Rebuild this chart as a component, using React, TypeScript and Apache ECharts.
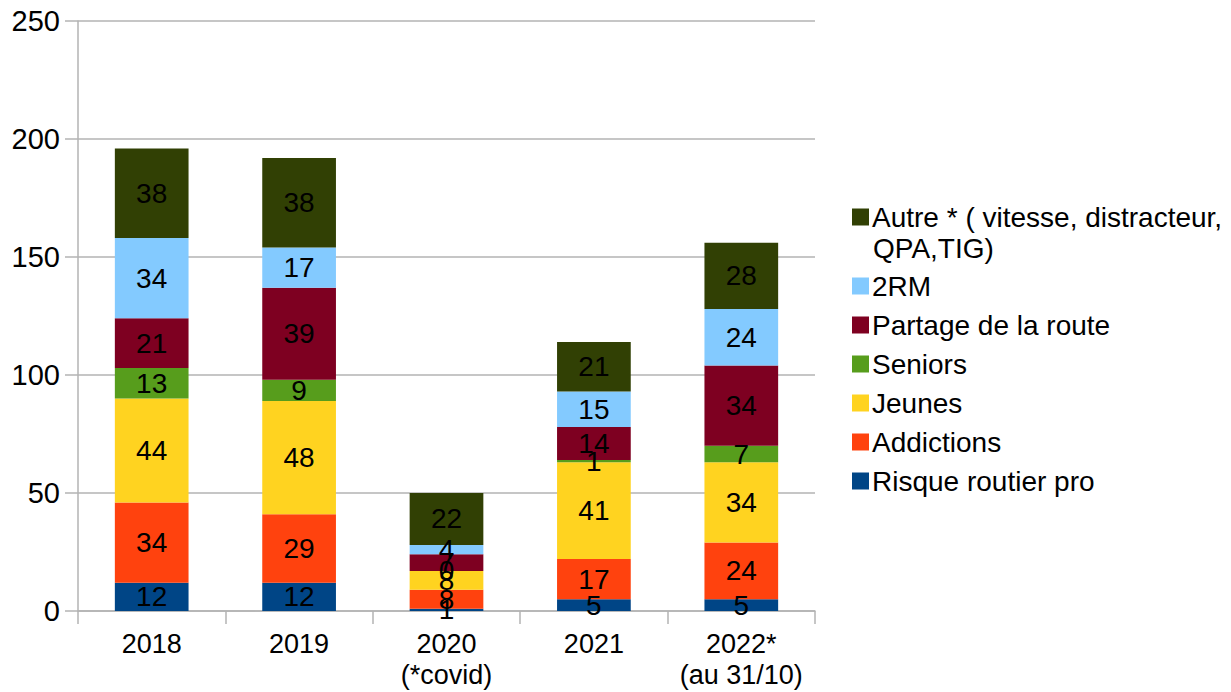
import React, { useEffect, useRef } from "react";
import * as echarts from "echarts";

const categories = ["2018", "2019", "2020\n(*covid)", "2021", "2022*\n(au 31/10)"];
const seriesNames = [
  "Risque routier pro",
  "Addictions",
  "Jeunes",
  "Seniors",
  "Partage de la route",
  "2RM",
  "Autre * ( vitesse, distracteur, QPA,TIG)",
];
const risque = [12, 12, 1, 5, 5];
const addictions = [34, 29, 8, 17, 24];
const jeunes = [44, 48, 8, 41, 34];
const seniors = [13, 9, 0, 1, 7];
const partage = [21, 39, 7, 14, 34];
const rm2 = [34, 17, 4, 15, 24];
const autre = [38, 38, 22, 21, 28];
const yTicks = { min: 0, max: 250, interval: 50 };

const colors = ["#004586", "#ff420e", "#ffd320", "#579d1c", "#7e0021", "#83caff", "#314004"];
const values = [risque, addictions, jeunes, seniors, partage, rm2, autre];

const FONT = "'Liberation Sans', Arial, sans-serif";

export default function App() {
  const ref = useRef<HTMLDivElement>(null);
  useEffect(() => {
    if (!ref.current) return;
    const chart = echarts.init(ref.current, undefined, { renderer: "svg" });
    const legendRest = seriesNames.slice(0, 6).reverse();
    chart.setOption({
      animation: false,
      color: colors,
      textStyle: { fontFamily: FONT },
      grid: { left: 78, right: 416, top: 21, bottom: 81, containLabel: false, outerBoundsMode: "none" },
      legend: [
        {
          data: [seriesNames[6]],
          orient: "vertical",
          left: 847,
          top: 196,
          itemWidth: 17,
          itemHeight: 17,
          itemGap: 7,
          icon: "rect",
          formatter: () => "Autre * ( vitesse, distracteur,",
          textStyle: { fontSize: 28, color: "#000", lineHeight: 32, fontFamily: FONT, padding: [0, 0, 0, -2] },
        },
        {
          data: legendRest,
          orient: "vertical",
          left: 847,
          top: 265,
          itemWidth: 17,
          itemHeight: 17,
          itemGap: 7,
          icon: "rect",
          textStyle: { fontSize: 28, color: "#000", lineHeight: 32, fontFamily: FONT, padding: [0, 0, 0, -2] },
        },
      ],
      graphic: [
        {
          type: "text",
          left: 873,
          top: 234,
          style: { text: "QPA,TIG)", fontSize: 28, fill: "#000", fontFamily: FONT },
        },
      ],
      xAxis: {
        type: "category",
        data: categories,
        axisLine: { lineStyle: { color: "#b3b3b3", width: 1.5 } },
        axisTick: { show: true, length: 13, lineStyle: { color: "#b3b3b3", width: 1.5 } },
        axisLabel: { interval: 0, fontSize: 27, color: "#000", margin: 17, lineHeight: 31, fontFamily: FONT },
      },
      yAxis: {
        type: "value",
        min: yTicks.min,
        max: yTicks.max,
        interval: yTicks.interval,
        axisLine: { show: true, lineStyle: { color: "#b3b3b3", width: 1.5 } },
        axisTick: { show: true, length: 13, lineStyle: { color: "#b3b3b3", width: 1.5 } },
        splitLine: { lineStyle: { color: "#b3b3b3", width: 1.5 } },
        axisLabel: { fontSize: 29, color: "#000", margin: 18, fontFamily: FONT },
      },
      series: seriesNames.map((name, i) => ({
        name,
        type: "bar",
        stack: "total",
        barWidth: "50%",
        data: values[i],
        itemStyle: { color: colors[i] },
        label: {
          show: true,
          position: "inside",
          fontSize: 28,
          color: "#000",
          fontFamily: FONT,
          formatter: (p: any) => String(p.value),
        },
      })),
    });
    return () => chart.dispose();
  }, []);
  return <div ref={ref} style={{ width: 1231, height: 692, position: "absolute", left: 0, top: 0 }} />;
}
